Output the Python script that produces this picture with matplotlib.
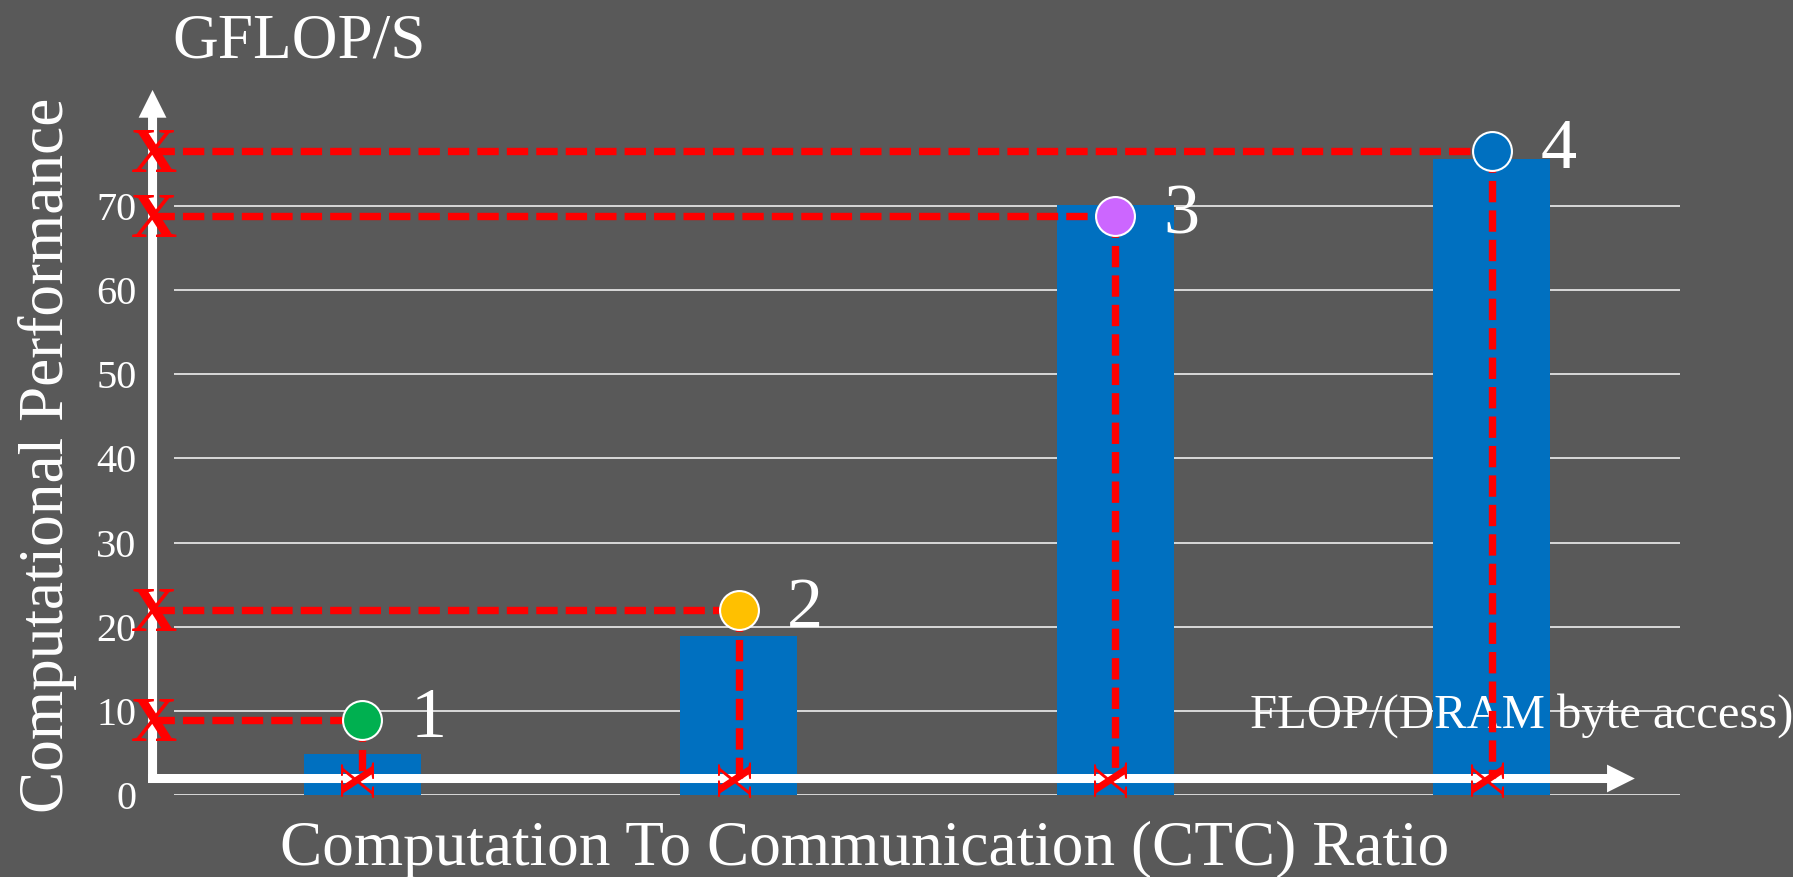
import matplotlib
matplotlib.use("Agg")
import matplotlib.pyplot as plt

# ---- data -------------------------------------------------------------
categories = ["1", "2", "3", "4"]
bar_values = [4.9, 18.9, 70.1, 75.6]        # attainable performance (GFLOP/S)
point_values = [8.9, 22.0, 68.8, 76.5]      # measured kernels (GFLOP/S)
point_colors = ["#00B050", "#FFC000", "#CC66FF", "#0070C0"]
y_ticks = [0, 10, 20, 30, 40, 50, 60, 70]

# ---- style ------------------------------------------------------------
BG = "#595959"
BAR = "#0070C0"
RED = "#FF0000"
GRID = "#D9D9D9"
plt.rcParams["font.family"] = ["Liberation Serif", "DejaVu Serif"]

W, H = 1793, 877
fig = plt.figure(figsize=(W / 100, H / 100), dpi=100, facecolor=BG)
ax = fig.add_axes([174 / W, 82 / H, 1506 / W, 673.1 / H])
ax.set_facecolor(BG)

x = list(range(len(categories)))
ax.set_xlim(-0.5, len(categories) - 0.5)
ax.set_ylim(0, 80)
for s in ax.spines.values():
    s.set_visible(False)
ax.set_xticks([])
ax.set_yticks(y_ticks)
ax.tick_params(axis="y", length=0, pad=27, labelsize=29, labelcolor="white")
ax.yaxis.grid(True, color=GRID, lw=1.4)
ax.set_axisbelow(True)

# bars
ax.bar(x, bar_values, width=0.31, color=BAR, zorder=2)

# hand-drawn style axes with arrow heads
axis_x = -0.557
axis_y = 1.96
arrow_style = "simple,head_length=2.0,head_width=2.0,tail_width=0.65"
ax.annotate("", xy=(axis_x, 83.8), xytext=(axis_x, 1.43),
            arrowprops=dict(arrowstyle=arrow_style, mutation_scale=10,
                            fc="white", ec="none", lw=0, shrinkA=0, shrinkB=0),
            annotation_clip=False, zorder=3)
ax.annotate("", xy=(3.38, axis_y), xytext=(-0.569, axis_y),
            arrowprops=dict(arrowstyle=arrow_style, mutation_scale=10,
                            fc="white", ec="none", lw=0, shrinkA=0, shrinkB=0),
            annotation_clip=False, zorder=3)

# axis unit note next to the x arrow
ax.text(1250 / W, (H - 728) / H, "FLOP/(DRAM byte access)", transform=fig.transFigure,
        ha="left", va="baseline", fontsize=35, color="white", zorder=3.5, clip_on=False)

# projections of every measured point onto both axes
bottom_mark = 2.0
for xi, v, c, lab in zip(x, point_values, point_colors, categories):
    ax.plot([axis_x, xi], [v, v], color=RED, lw=5.3, dashes=(2.9, 1.1),
            dash_capstyle="butt", zorder=4, clip_on=False)
    ax.plot([xi, xi], [v, bottom_mark], color=RED, lw=5.3, dashes=(2.9, 1.1),
            dash_capstyle="butt", zorder=4, clip_on=False)
    ax.annotate("X", (axis_x, v), xytext=(0.7, -15.2), textcoords="offset points",
                ha="center", va="baseline", fontsize=46, fontweight="bold",
                color=RED, zorder=5, annotation_clip=False)
    ax.text(xi, bottom_mark, "X", rotation=90, ha="center", va="center",
            fontsize=37, fontweight="bold", color=RED, zorder=5, clip_on=False)
    ax.plot(xi, v, "o", ms=28, mfc=c, mec="white", mew=1.5, zorder=6, clip_on=False)
    ax.annotate(lab, (xi, v), xytext=(35, -12.2), textcoords="offset points",
                ha="left", va="baseline", fontsize=52, color="white", zorder=7,
                annotation_clip=False)

# titles
fig.text(172 / W, (H - 58) / H, "GFLOP/S", ha="left", va="baseline",
         fontsize=45.5, color="white")
fig.text(63 / W, (H - 455.5) / H, "Computational Performance", rotation=90,
         rotation_mode="anchor", ha="center", va="baseline", fontsize=45.5, color="white")
fig.text(865 / W, (H - 865) / H, "Computation To Communication (CTC) Ratio",
         ha="center", va="baseline", fontsize=45.5, color="white")

fig.savefig("out.png", dpi=100, facecolor=BG)
